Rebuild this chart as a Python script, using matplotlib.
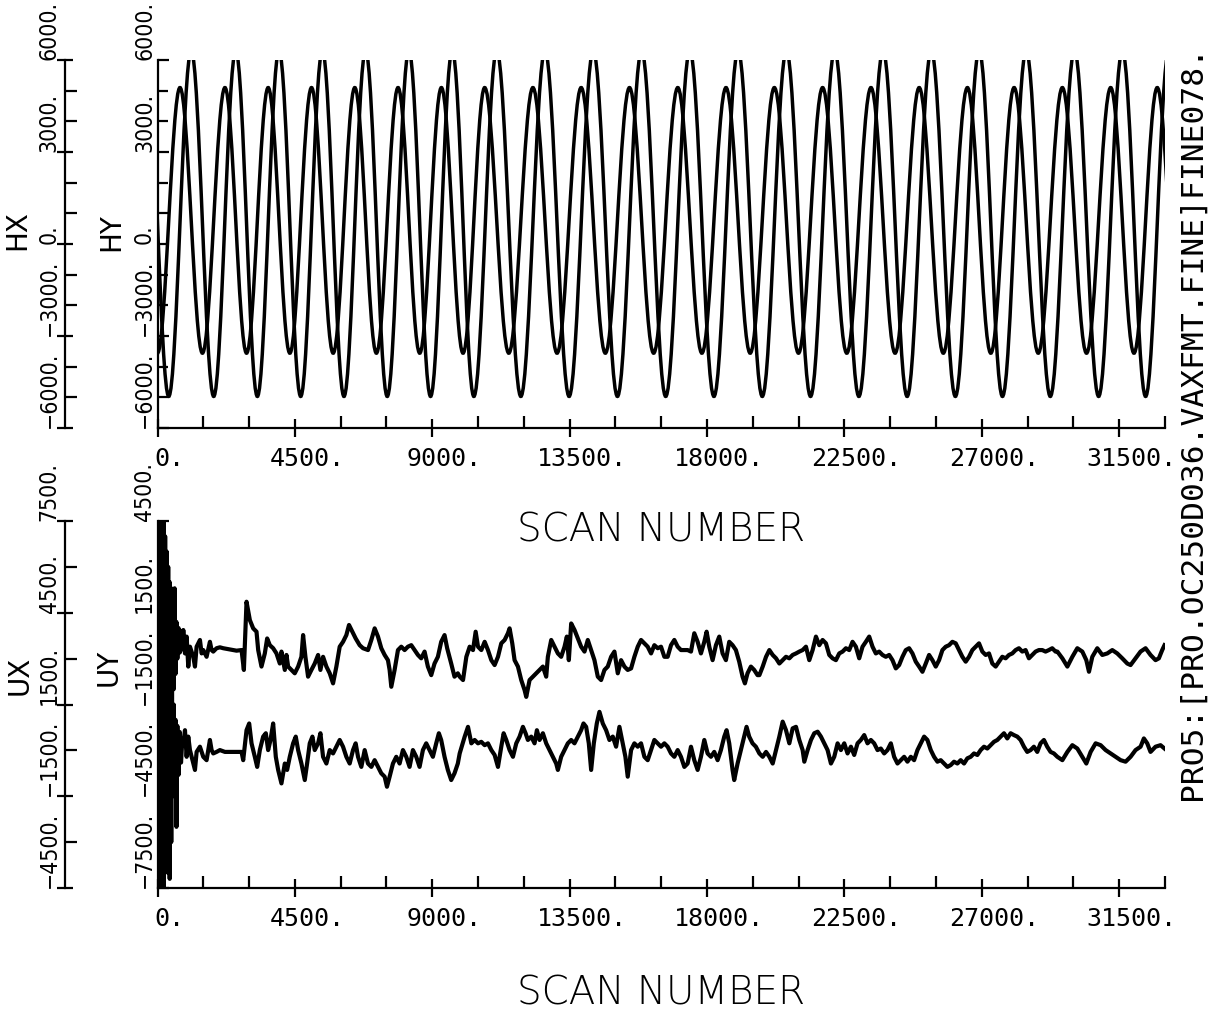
import matplotlib
matplotlib.use("Agg")
import matplotlib.pyplot as plt
from matplotlib.path import Path
from matplotlib.patches import PathPatch
from matplotlib.ticker import MultipleLocator
from matplotlib.transforms import ScaledTranslation

# ---------------- data ----------------
x_ticks = [0, 4500, 9000, 13500, 18000, 22500, 27000, 31500]
x_tick_labels = ["0.", "4500.", "9000.", "13500.", "18000.", "22500.", "27000.", "31500."]
h_ticks = [-6000, -3000, 0, 3000, 6000]
h_tick_labels = ["\u22126000.", "\u22123000.", "0.", "3000.", "6000."]
ux_ticks = [-4500, -1500, 1500, 4500, 7500]
ux_tick_labels = ["\u22124500.", "\u22121500.", "1500.", "4500.", "7500."]
uy_ticks = [-7500, -4500, -1500, 1500, 4500]
uy_tick_labels = ["\u22127500.", "\u22124500.", "\u22121500.", "1500.", "4500."]

# HX / HY : successive extrema (scan number, value)
hx_ext_scan = [0, 736, 1472, 2209, 2917, 3625, 4335, 5045, 5754, 6462, 7170, 7879, 8589,
               9299, 10008, 10716, 11506, 12296, 13087, 13877, 14669, 15460, 16251, 17041,
               17831, 18621, 19413, 20205, 20995, 21785, 22577, 23369, 24159, 24949, 25739,
               26529, 27294, 28058, 28848, 29638, 30430, 31221, 31984, 32746, 33510]
hx_ext_val = [-3560, 5100] * 22 + [-3560]
hy_ext_scan = [-368, 368, 1104, 1841, 2563, 3271, 3980, 4690, 5400, 6108, 6816, 7525, 8234,
               8944, 9654, 10362, 11111, 11901, 12692, 13482, 14273, 15065, 15856, 16646,
               17436, 18226, 19017, 19809, 20600, 21390, 22181, 22973, 23764, 24554, 25344,
               26134, 26912, 27676, 28453, 29243, 30034, 30826, 31603, 32365, 33128]
hy_ext_val = [6300, -4970] * 22 + [6300]

uy_points = [
    (0, 3000), (25, -6000), (50, 4500), (75, -7000), (100, 4600), (125, -6500), (150, 4800),
    (175, -5500), (200, 4500), (225, -6000), (250, 4000), (275, -5000), (300, 3500),
    (325, -4500), (350, 3000), (375, -6800), (400, 2500), (425, -2000), (450, 2300),
    (475, -1500), (500, 1800), (530, -1000), (560, 2300), (590, -500), (620, 1200), (650, 0),
    (690, 1000), (730, 200), (770, 900), (810, 300),
    (845, 935), (900, 170), (954, 720), (1008, -260), (1063, 390), (1172, 60), (1227, -260),
    (1281, 390), (1390, 610), (1445, 170), (1499, 280), (1608, 60), (1717, 550), (1772, 280),
    (1826, 230), (1935, 340), (2044, 370), (2153, 340), (2371, 300), (2589, 260), (2753, 280),
    (2829, -370), (2916, 1860), (3025, 1260), (3134, 990), (3243, 880), (3298, 280),
    (3406, -260), (3515, 170), (3592, 660), (3679, 440), (3788, 340), (3897, 170),
    (4006, -160), (4060, 230), (4170, -370), (4224, 120), (4279, -260), (4388, -370),
    (4496, -480), (4606, -260), (4714, 60), (4769, 770), (4845, 60), (4932, -590),
    (5041, -370), (5150, -160), (5260, 120), (5336, -370), (5423, 60), (5532, -260),
    (5641, -480), (5750, -810), (5859, -260), (5968, 390), (6077, 550), (6186, 770),
    (6273, 1100), (6382, 880), (6491, 660), (6622, 440), (6731, 340), (6895, 280),
    (7004, 610), (7113, 990), (7222, 720), (7330, 340), (7440, 120), (7548, -50),
    (7603, -370), (7658, -920), (7766, -370), (7876, 280), (7985, 390), (8094, 280),
    (8202, 390), (8312, 440), (8420, 280), (8530, 120), (8638, 10), (8748, 230),
    (8856, -260), (8966, -540), (9074, -160), (9184, 60), (9292, 550), (9402, 770),
    (9488, 340), (9620, -160), (9728, -590), (9837, -480),
    (9898, -590), (10007, -700), (10116, 60), (10225, 390), (10334, 280), (10421, 880),
    (10498, 390), (10606, 280), (10716, 550), (10824, 280), (10934, -50), (11042, -210),
    (11152, 60), (11260, 500), (11370, 610), (11478, 830), (11533, 990), (11620, 500),
    (11696, -50), (11806, -260), (11914, -700), (12024, -1030), (12078, -1250),
    (12187, -700), (12296, -590), (12405, -480), (12514, -370), (12623, -260),
    (12732, -590), (12786, 60), (12896, 610), (13004, 390), (13114, 170), (13222, 60),
    (13332, 390), (13408, 720), (13473, -50), (13550, 1150), (13658, 940), (13768, 660),
    (13876, 390), (13986, 230), (14094, 610), (14204, 280), (14312, -50), (14422, -590),
    (14530, -700), (14640, -370), (14748, -260), (14858, 60), (14966, 230), (15076, -480),
    (15184, -50), (15294, -260), (15402, -370), (15512, -320), (15620, 60), (15730, 390),
    (15838, 610), (15948, 500), (16056, 390), (16166, 170), (16274, 440), (16384, 340),
    (16492, 390), (16602, 60), (16710, 60), (16820, 440), (16928, 610), (17038, 390),
    (17146, 280), (17256, 280), (17364, 280), (17474, 230), (17582, 830), (17692, 550),
    (17800, 170), (17910, 550), (17986, 880), (18073, 390), (18182, -50), (18291, 440),
    (18400, 720), (18509, 170), (18618, -50), (18727, 550), (18836, 440), (18945, 280),
    (19054, -100), (19163, -590), (19240, -810), (19326, -480), (19436, -260),
    (19544, -370), (19654, -540),
    (19714, -540), (19823, -260), (19932, 60), (20041, 280), (20150, 120), (20259, 10),
    (20368, -160), (20477, -50), (20586, 60), (20695, 10), (20804, 120), (20913, 170),
    (21022, 230), (21131, 280), (21240, 390), (21349, -50), (21458, 280), (21567, 720),
    (21676, 440), (21785, 610), (21894, 500), (22003, 120), (22112, 10), (22221, -50),
    (22330, 170), (22439, 230), (22548, 340), (22657, 280), (22766, 550), (22875, 390),
    (22984, 10), (23093, 390), (23202, 550), (23311, 720), (23420, 390), (23529, 170),
    (23638, 230), (23747, 120), (23856, 60), (23965, 120), (24074, -50), (24183, -320),
    (24292, -210), (24401, 60), (24510, 280), (24619, 340), (24728, 170), (24837, -100),
    (24946, -260), (25055, -430), (25164, -160), (25273, 120), (25382, -50), (25491, -260),
    (25600, -50), (25709, 280), (25818, 390), (25927, 440), (26036, 550), (26145, 500),
    (26254, 280), (26363, 60), (26472, -100), (26581, 60), (26690, 280), (26799, 390),
    (26908, 500), (27017, 230), (27126, 120), (27235, 170), (27344, -160), (27453, -260),
    (27562, -100), (27671, 60), (27780, 10), (27889, 120), (27998, 170), (28107, 280),
    (28216, 340), (28325, 230), (28434, 280), (28543, 10), (28652, 120), (28761, 230),
    (28870, 280), (28979, 280), (29088, 230), (29197, 280), (29306, 340), (29415, 230),
    (29474, 230), (29638, 10), (29802, -260), (29965, 60), (30128, 340), (30292, 230),
    (30423, -50), (30510, -430), (30619, 60), (30782, 340), (30946, 120), (31110, 170),
    (31273, 280), (31436, 170), (31600, 10), (31764, -160), (31872, -210), (32036, 10),
    (32199, 230), (32363, 340), (32526, 120), (32690, -50), (32799, 10), (32908, 280),
    (32984, 440),
]

ux_points = [
    (0, -2000), (25, 5000), (50, -4500), (75, 6000), (100, -4600), (125, 7000), (150, -4300),
    (175, 5000), (200, -4600), (225, 4000), (250, -4000), (275, 3000), (300, -3500),
    (325, 2500), (350, -4000), (375, 2000), (400, -4200), (425, 1500), (450, -3000),
    (475, 1200), (500, -1500), (530, 1500), (560, -1200), (590, 1000), (620, -2500),
    (650, 800), (690, -800), (730, 600), (770, -400), (810, 300),
    (845, 230), (900, 660), (954, -210), (1008, 450), (1063, 10), (1172, -430), (1227, -640),
    (1281, -50), (1390, 120), (1499, -210), (1608, -320), (1717, 340), (1772, 10),
    (1826, -100), (1935, -50), (2044, 10), (2208, -50), (2371, -50), (2589, -50),
    (2753, -50), (2807, -320), (2916, 660), (3003, 880), (3080, 230), (3188, -210),
    (3265, -540), (3352, 10), (3461, 450), (3548, 560), (3624, 10), (3701, 340), (3788, 880),
    (3875, -210), (3952, -640), (4060, -1080), (4170, -430), (4246, -640), (4333, -210),
    (4442, 230), (4529, 450), (4606, 10), (4714, -430), (4824, -970), (4900, -430),
    (4987, 230), (5074, 450), (5150, 10), (5260, 230), (5336, 560), (5423, -210),
    (5532, -430), (5641, 10), (5750, -100), (5859, 120), (5968, 340), (6077, 120),
    (6186, -210), (6295, -430), (6404, 10), (6491, 230), (6568, -210), (6676, -540),
    (6786, 10), (6894, -430), (7004, -540), (7112, -320), (7222, -540), (7330, -750),
    (7440, -860), (7516, -1190), (7603, -860), (7712, -430), (7821, -210), (7930, -430),
    (8039, 10), (8148, -210), (8257, -540), (8366, 10), (8475, -210), (8584, -540),
    (8693, 10), (8802, 230), (8911, 10), (9020, -210), (9129, 230), (9216, 560), (9292, 340),
    (9402, -210), (9510, -640), (9620, -970), (9728, -750), (9837, -430),
    (9898, -100), (10062, 450), (10170, 770), (10280, 230), (10388, 340), (10498, 230),
    (10606, 280), (10716, 170), (10824, 230), (10934, 10), (11042, -150), (11152, -540),
    (11260, 120), (11337, 560), (11424, 340), (11533, 10), (11642, -210), (11751, 230),
    (11860, 450), (11969, 770), (12056, 560), (12132, 340), (12242, 450), (12350, 230),
    (12427, 660), (12514, 340), (12623, 560), (12732, 230), (12841, 10), (12950, -210),
    (13059, -430), (13114, -640), (13222, -210), (13332, 10), (13440, 230), (13550, 340),
    (13658, 230), (13768, 450), (13876, 660), (13953, 880), (14040, 770), (14127, 230),
    (14204, -640), (14291, 230), (14389, 880), (14476, 1260), (14585, 880), (14694, 660),
    (14803, 340), (14912, 450), (15021, 120), (15130, 770), (15239, 230), (15326, -210),
    (15402, -860), (15512, 10), (15620, 230), (15730, 120), (15838, 230), (15948, -210),
    (16056, -320), (16166, 10), (16274, 340), (16384, 230), (16492, 120), (16602, 230),
    (16710, 120), (16820, -100), (16928, -210), (17038, 10), (17146, -210), (17256, -540),
    (17364, -430), (17474, 120), (17582, -320), (17692, -640), (17800, -210), (17910, 340),
    (18018, -100), (18128, -210), (18236, -50), (18346, -320), (18454, 10), (18564, 450),
    (18640, 660), (18727, 230), (18836, -640), (18890, -970), (19000, -430), (19108, 10),
    (19218, 450), (19294, 770), (19381, 450), (19490, 230), (19599, 120),
    (19714, -100), (19823, -210), (19932, -50), (20041, -210), (20150, -430), (20259, 10),
    (20368, 450), (20477, 940), (20586, 660), (20695, 230), (20804, 720), (20913, 770),
    (21022, 340), (21131, 10), (21186, -370), (21294, 10), (21404, 340), (21512, 560),
    (21622, 610), (21730, 450), (21840, 230), (21948, 10), (22058, -430), (22166, -210),
    (22276, 230), (22384, 10), (22494, 230), (22602, -100), (22712, 120), (22820, -150),
    (22930, 230), (23038, 340), (23148, 500), (23256, 230), (23366, 340), (23474, 230),
    (23584, 10), (23692, 60), (23802, -100), (23910, 10), (24020, 230), (24128, -210),
    (24238, -430), (24346, -320), (24456, -210), (24564, -370), (24674, -210), (24782, -320),
    (24892, 10), (25000, 230), (25110, 450), (25218, 340), (25328, 10), (25436, -210),
    (25546, -370), (25654, -320), (25764, -430), (25872, -540), (25982, -480), (26090, -370),
    (26200, -430), (26308, -320), (26418, -430), (26526, -260), (26636, -210), (26744, -100),
    (26854, -150), (26962, 10), (27072, 120), (27180, 60), (27290, 170), (27398, 280),
    (27508, 340), (27616, 450), (27726, 560), (27834, 390), (27944, 560), (28052, 500),
    (28162, 450), (28270, 340), (28380, 120), (28488, -50), (28598, 10), (28706, 120),
    (28816, -50), (28924, 230), (29034, 340), (29142, 120), (29252, -50), (29360, -100),
    (29474, -210), (29638, -320), (29802, -50), (29965, 170), (30128, 60), (30292, -210),
    (30423, -430), (30564, -50), (30728, 230), (30892, 170), (31055, 10), (31218, -100),
    (31382, -210), (31546, -320), (31709, -370), (31872, -210), (32036, 10), (32200, 120),
    (32308, 390), (32418, 230), (32526, -50), (32690, 120), (32854, 170), (32984, 60),
]

side_text = "PRO5:[PRO.OC250D036.VAXFMT.FINE]FINE078."

# ---------------- drawing ----------------
W, H = 1217, 1013
fig = plt.figure(figsize=(W / 100, H / 100), dpi=100)
fig.patch.set_facecolor("white")

LW_AX = 1.6
MONO = "DejaVu Sans Mono"
SANS = "DejaVu Sans"
YT_SIZE = 16.5


def smooth_path(scans, vals):
    """Smooth curve through successive extrema (horizontal tangent at each)."""
    verts = [(scans[0], vals[0])]
    codes = [Path.MOVETO]
    for i in range(len(scans) - 1):
        t0, t1 = scans[i], scans[i + 1]
        v0, v1 = vals[i], vals[i + 1]
        d = (t1 - t0) * 0.3634
        verts += [(t0 + d, v0), (t1 - d, v1), (t1, v1)]
        codes += [Path.CURVE4] * 3
    return Path(verts, codes)


def make_panel(rect, inner_lim, outer_lim, inner_ticks, inner_labels, outer_ticks,
               outer_labels, inner_minor, outer_minor, inner_name, outer_name,
               inner_lab_xy, outer_lab_xy, xlabel_y):
    ax = fig.add_axes(rect)
    ax.set_xlim(0, 33000)
    ax.set_ylim(*inner_lim)
    ax.patch.set_visible(False)
    for s in ("top", "right"):
        ax.spines[s].set_visible(False)
    for s in ("left", "bottom"):
        ax.spines[s].set_linewidth(LW_AX)
    ax.set_xticks(x_ticks, labels=x_tick_labels, fontsize=18, family=MONO)
    ax.xaxis.set_minor_locator(MultipleLocator(1500))
    ax.tick_params(axis="x", which="major", direction="inout", length=13, width=LW_AX, pad=7)
    ax.tick_params(axis="x", which="minor", direction="in", length=8.5, width=LW_AX)
    ax.set_yticks(inner_ticks, labels=inner_labels, rotation=90, va="bottom",
                  fontsize=YT_SIZE, family=SANS, fontstretch="condensed")
    ax.yaxis.set_minor_locator(MultipleLocator(inner_minor))
    ax.tick_params(axis="y", which="major", direction="in", length=8, width=LW_AX, pad=1)
    ax.tick_params(axis="y", which="minor", direction="in", length=7, width=LW_AX)
    ax.set_ylabel(inner_name, fontsize=20, family=SANS)
    ax.yaxis.set_label_coords(*inner_lab_xy)
    ax.set_xlabel("SCAN NUMBER", fontsize=28, family=SANS, fontweight="light")
    ax.xaxis.set_label_coords(0.5, xlabel_y)

    ax2 = ax.twinx()
    ax2.set_ylim(*outer_lim)
    ax2.yaxis.tick_left()
    ax2.yaxis.set_label_position("left")
    for s in ("top", "right", "bottom"):
        ax2.spines[s].set_visible(False)
    ax2.spines["left"].set_visible(True)
    ax2.spines["left"].set_position(("axes", -0.0918))
    ax2.spines["left"].set_linewidth(LW_AX)
    ax2.set_yticks(outer_ticks, labels=outer_labels, rotation=90, va="bottom",
                   fontsize=YT_SIZE, family=SANS, fontstretch="condensed")
    ax2.yaxis.set_minor_locator(MultipleLocator(outer_minor))
    ax2.tick_params(axis="y", which="major", direction="inout", length=12, width=LW_AX, pad=-3)
    ax2.tick_params(axis="y", which="minor", direction="in", length=8.5, width=LW_AX)
    ax2.set_ylabel(outer_name, fontsize=20, family=SANS)
    ax2.yaxis.set_label_coords(*outer_lab_xy)

    off = ScaledTranslation(0.12, 0, fig.dpi_scale_trans)
    for lbl in ax.get_xticklabels():
        lbl.set_transform(lbl.get_transform() + off)
    return ax, ax2


# top panel: HX (outer axis) and HY (inner axis)
ax_t, ax_t2 = make_panel([157.5 / W, 1 - 428 / H, 1007.5 / W, 368 / H],
                         (-6000, 6000), (-6000, 6000), h_ticks, h_tick_labels,
                         h_ticks, h_tick_labels, 1000, 1000, "HY", "HX",
                         (-0.032, 0.533), (-0.125, 0.538), -0.228)
ax_t2.add_patch(PathPatch(smooth_path(hx_ext_scan, hx_ext_val), fill=False,
                          edgecolor="black", lw=2.5, transform=ax_t2.transData))
ax_t.add_patch(PathPatch(smooth_path(hy_ext_scan, hy_ext_val), fill=False,
                         edgecolor="black", lw=2.5, transform=ax_t.transData))

# bottom panel: UX (outer axis) and UY (inner axis)
ax_b, ax_b2 = make_panel([157.5 / W, 1 - 888 / H, 1007.5 / W, 367 / H],
                         (-7500, 4500), (-4500, 7500), uy_ticks, uy_tick_labels,
                         ux_ticks, ux_tick_labels, 1500, 1500, "UY", "UX",
                         (-0.035, 0.60), (-0.123, 0.58), -0.237)
uy_scan, uy_val = zip(*uy_points)
ux_scan, ux_val = zip(*ux_points)
ax_b.plot(uy_scan, uy_val, color="black", lw=3.0, solid_joinstyle="round")
ax_b2.plot(ux_scan, ux_val, color="black", lw=3.0, solid_joinstyle="round")

fig.text(1192 / W, 1 - 800 / H, side_text, rotation=90, ha="center", va="bottom",
         family=MONO, fontsize=22.5)

fig.savefig("out.png", dpi=100, facecolor="white")
